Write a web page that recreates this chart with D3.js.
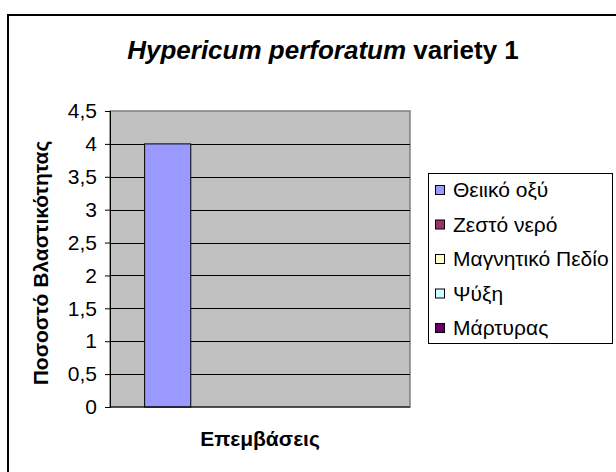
<!DOCTYPE html>
<html>
<head>
<meta charset="utf-8">
<script src="https://cdn.jsdelivr.net/npm/d3@7"></script>
<style>
  body { margin: 0; background: #fff; }
  text { font-family: "Liberation Sans", Arial, sans-serif; }
</style>
</head>
<body>
<div id="chart"></div>
<script>
// data
var categories = [""];
var seriesNames = ["Θειικό οξύ", "Ζεστό νερό", "Μαγνητικό Πεδίο", "Ψύξη", "Μάρτυρας"];
var seriesValues = [4, 0, 0, 0, 0];
var seriesColors = ["#9999ff", "#993366", "#ffffcc", "#ccffff", "#660066"];
var yTicks = [0, 0.5, 1, 1.5, 2, 2.5, 3, 3.5, 4, 4.5];

var W = 616, H = 472;
var plot = {left: 110, right: 410, top: 111, bottom: 407};

var svg = d3.select("#chart").append("svg")
    .attr("width", W)
    .attr("height", H);

// chart area frame
svg.append("rect")
    .attr("x", 8).attr("y", 15)
    .attr("width", W + 10).attr("height", H + 10)
    .attr("fill", "#fff")
    .attr("stroke", "#000")
    .attr("stroke-width", 2);

// title
var title = svg.append("text")
    .attr("x", 323).attr("y", 59)
    .attr("text-anchor", "middle")
    .attr("font-size", 26)
    .attr("font-weight", "bold");
title.append("tspan").attr("font-style", "italic").text("Hypericum perforatum");
title.append("tspan").text(" variety 1");

var y = d3.scaleLinear()
    .domain([0, 4.5])
    .range([plot.bottom, plot.top]);

var x0 = d3.scaleBand()
    .domain(categories)
    .range([plot.left, plot.right])
    .paddingInner(0)
    .paddingOuter(0.15);

var x1 = d3.scaleBand()
    .domain(seriesNames)
    .range([0, x0.bandwidth()]);

// plot area background
svg.append("rect")
    .attr("x", plot.left).attr("y", plot.top)
    .attr("width", plot.right - plot.left)
    .attr("height", plot.bottom - plot.top)
    .attr("fill", "#c0c0c0")
    .attr("stroke", "#808080")
    .attr("stroke-width", 1.5);

// gridlines
svg.append("g")
    .selectAll("line")
    .data(yTicks.filter(function(d) { return d > 0 && d < 4.5; }))
    .enter().append("line")
    .attr("x1", plot.left).attr("x2", plot.right)
    .attr("y1", function(d) { return Math.round(y(d)) + 0.5; })
    .attr("y2", function(d) { return Math.round(y(d)) + 0.5; })
    .attr("stroke", "#000");

// bars
svg.append("g")
    .selectAll("rect")
    .data(seriesValues)
    .enter().append("rect")
    .attr("x", function(d, i) { return x0(categories[0]) + x1(seriesNames[i]); })
    .attr("y", function(d) { return y(d); })
    .attr("width", x1.bandwidth())
    .attr("height", function(d) { return plot.bottom - y(d); })
    .attr("fill", function(d, i) { return seriesColors[i]; })
    .attr("stroke", "#000")
    .attr("stroke-width", 1);

// y axis
var yAxis = svg.append("g")
    .attr("transform", "translate(" + plot.left + ",0)")
    .call(d3.axisLeft(y)
        .tickValues(yTicks)
        .tickSize(5)
        .tickPadding(8)
        .tickFormat(function(d) { return String(d).replace(".", ","); }));
yAxis.select(".domain").attr("stroke", "#000");
yAxis.selectAll("text")
    .attr("font-size", 21)
    .attr("fill", "#000")
    .attr("font-family", "Liberation Sans, Arial, sans-serif");

// x axis line
svg.append("line")
    .attr("x1", plot.left).attr("x2", plot.right)
    .attr("y1", plot.bottom).attr("y2", plot.bottom)
    .attr("stroke", "#000");

// axis titles
svg.append("text")
    .attr("transform", "translate(48," + 263 + ") rotate(-90)")
    .attr("text-anchor", "middle")
    .attr("font-size", 21)
    .attr("font-weight", "bold")
    .text("Ποσοστό Βλαστικότητας");

svg.append("text")
    .attr("x", 260).attr("y", 446)
    .attr("text-anchor", "middle")
    .attr("font-size", 21)
    .attr("font-weight", "bold")
    .text("Επεμβάσεις");

// legend
var legend = svg.append("g");
legend.append("rect")
    .attr("x", 428.5).attr("y", 173.5)
    .attr("width", 184).attr("height", 170)
    .attr("fill", "#fff")
    .attr("stroke", "#000");

var item = legend.selectAll("g.item")
    .data(seriesNames)
    .enter().append("g")
    .attr("class", "item")
    .attr("transform", function(d, i) { return "translate(435," + (190 + i * 34.5) + ")"; });

item.append("rect")
    .attr("x", 0.5).attr("y", -4.5)
    .attr("width", 9).attr("height", 9)
    .attr("fill", function(d, i) { return seriesColors[i]; })
    .attr("stroke", "#000");

item.append("text")
    .attr("x", 18).attr("y", 7)
    .attr("font-size", 21)
    .text(function(d) { return d; });
</script>
</body>
</html>
